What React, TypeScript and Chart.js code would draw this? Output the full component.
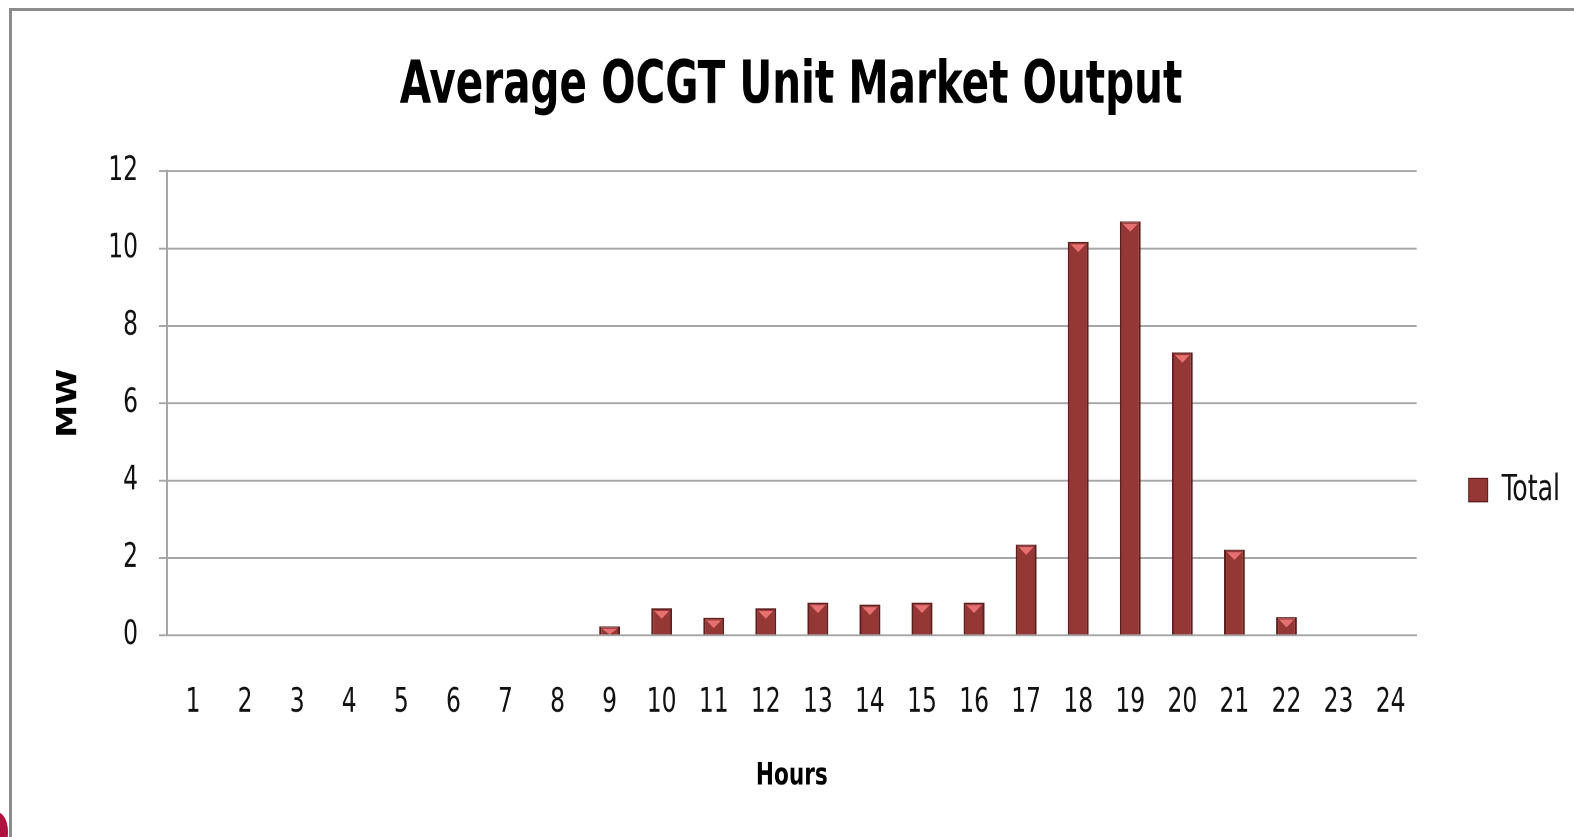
import React, { useEffect, useRef } from "react";
import { Chart, registerables } from "chart.js";

Chart.register(...registerables);

const hours = ["1","2","3","4","5","6","7","8","9","10","11","12","13","14","15","16","17","18","19","20","21","22","23","24"];
const totalMW = [0,0,0,0,0,0,0,0,0.24,0.7,0.46,0.7,0.85,0.8,0.85,0.85,2.35,10.17,10.7,7.31,2.22,0.48,0,0];
const yTicks = [0,2,4,6,8,10,12];

const FONT = "'Liberation Sans Narrow', 'DejaVu Sans Condensed', 'Liberation Sans', sans-serif";
const BAR = "#953735";
const BAR_EDGE = "#5e1f1e";
const GRID = "#a6a6a6";
const STRETCH = 1.3;
const CW = 1562;
const CH = 826 / STRETCH;

const bevelPlugin = {
  id: "bevel",
  afterDatasetsDraw(chart: any) {
    const ctx = chart.ctx;
    const meta = chart.getDatasetMeta(0);
    meta.data.forEach((bar: any) => {
      const { x, y, base, width } = bar.getProps(["x", "y", "base", "width"], true);
      const h = base - y;
      if (h < 2) return;
      const half = width / 2 - 3;
      const th = Math.min(6, h - 2);
      ctx.save();
      ctx.fillStyle = "rgba(240,120,120,0.9)";
      ctx.beginPath();
      ctx.moveTo(x - half, y + 2);
      ctx.lineTo(x + half, y + 2);
      ctx.lineTo(x, y + 2 + th);
      ctx.closePath();
      ctx.fill();
      ctx.restore();
    });
  },
};

export default function App() {
  const ref = useRef<HTMLCanvasElement | null>(null);
  useEffect(() => {
    document.body.style.margin = "0";
    const chart = new Chart(ref.current!, {
      type: "bar",
      data: {
        labels: hours,
        datasets: [
          {
            label: "Total",
            data: totalMW,
            backgroundColor: BAR,
            borderColor: BAR_EDGE,
            borderWidth: { left: 2, right: 2, top: 1, bottom: 0 } as any,
            borderSkipped: false,
            categoryPercentage: 0.4,
            barPercentage: 1,
          },
        ],
      },
      options: {
        animation: false,
        responsive: false,
        maintainAspectRatio: false,
        devicePixelRatio: 2,
        layout: { padding: { left: 0, right: 4, top: 0, bottom: 0 } },
        plugins: {
          title: {
            display: true,
            text: "Average OCGT Unit Market Output",
            color: "#000",
            font: { family: FONT, size: 45, weight: "bold" },
            padding: { top: 32, bottom: 37 },
          },
          legend: {
            position: "right",
            title: { display: true, text: " ", font: { size: 10 }, padding: { top: 45, bottom: 45 } },
            labels: {
              boxWidth: 19,
              boxHeight: 18,
              color: "#111",
              font: { family: FONT, size: 28 },
              padding: 52,
              generateLabels: () => [
                { text: "Total", fillStyle: BAR, strokeStyle: BAR_EDGE, fontColor: "#111", lineWidth: 1, datasetIndex: 0, hidden: false } as any,
              ],
            },
          },
          tooltip: { enabled: false },
        },
        scales: {
          x: {
            grid: { display: false },
            border: { display: true, color: GRID, width: 1.5 },
            afterFit: (axis: any) => {
              axis.height = 154.6;
            },
            ticks: {
              color: "#111",
              font: { family: FONT, size: 26 },
              padding: 28,
              maxRotation: 0,
              autoSkip: false,
            },
            title: {
              display: true,
              text: "Hours",
              color: "#000",
              font: { family: FONT, size: 24, weight: "bold" },
              padding: { top: 0, bottom: 32 },
            },
          },
          y: {
            min: 0,
            max: 12,
            afterBuildTicks: (axis: any) => {
              axis.ticks = yTicks.map((v) => ({ value: v }));
            },
            afterFit: (axis: any) => {
              axis.width = 155;
            },
            grid: { color: GRID, lineWidth: 1.5, tickLength: 8, drawTicks: true },
            border: { display: true, color: GRID, width: 2 },
            ticks: {
              color: "#111",
              font: { family: FONT, size: 26 },
              padding: 21,
            },
            title: {
              display: true,
              text: "MW",
              color: "#000",
              font: { family: FONT, size: 28, weight: "bold" },
              padding: { top: 40, bottom: 0 },
            },
          },
        },
      },
      plugins: [bevelPlugin],
    });
    return () => chart.destroy();
  }, []);

  return (
    <div style={{ position: "relative", width: 1574, height: 837, overflow: "hidden", background: "#fff" }}>
      <div
        style={{
          position: "absolute",
          left: 9,
          top: 8,
          width: 1700,
          height: 900,
          borderLeft: "3px solid #8c8c8c",
          borderTop: "3px solid #8c8c8c",
          boxSizing: "border-box",
        }}
      />
      <div style={{ position: "absolute", left: -14, top: 812, width: 22, height: 40, borderRadius: "50%", background: "#b0123f" }} />
      <div
        style={{
          position: "absolute",
          left: 12,
          top: 11,
          width: CW,
          height: CH,
          transform: `scaleY(${STRETCH})`,
          transformOrigin: "top left",
        }}
      >
        <canvas ref={ref} style={{ width: CW, height: CH, display: "block" }} width={CW} height={CH} />
      </div>
    </div>
  );
}
